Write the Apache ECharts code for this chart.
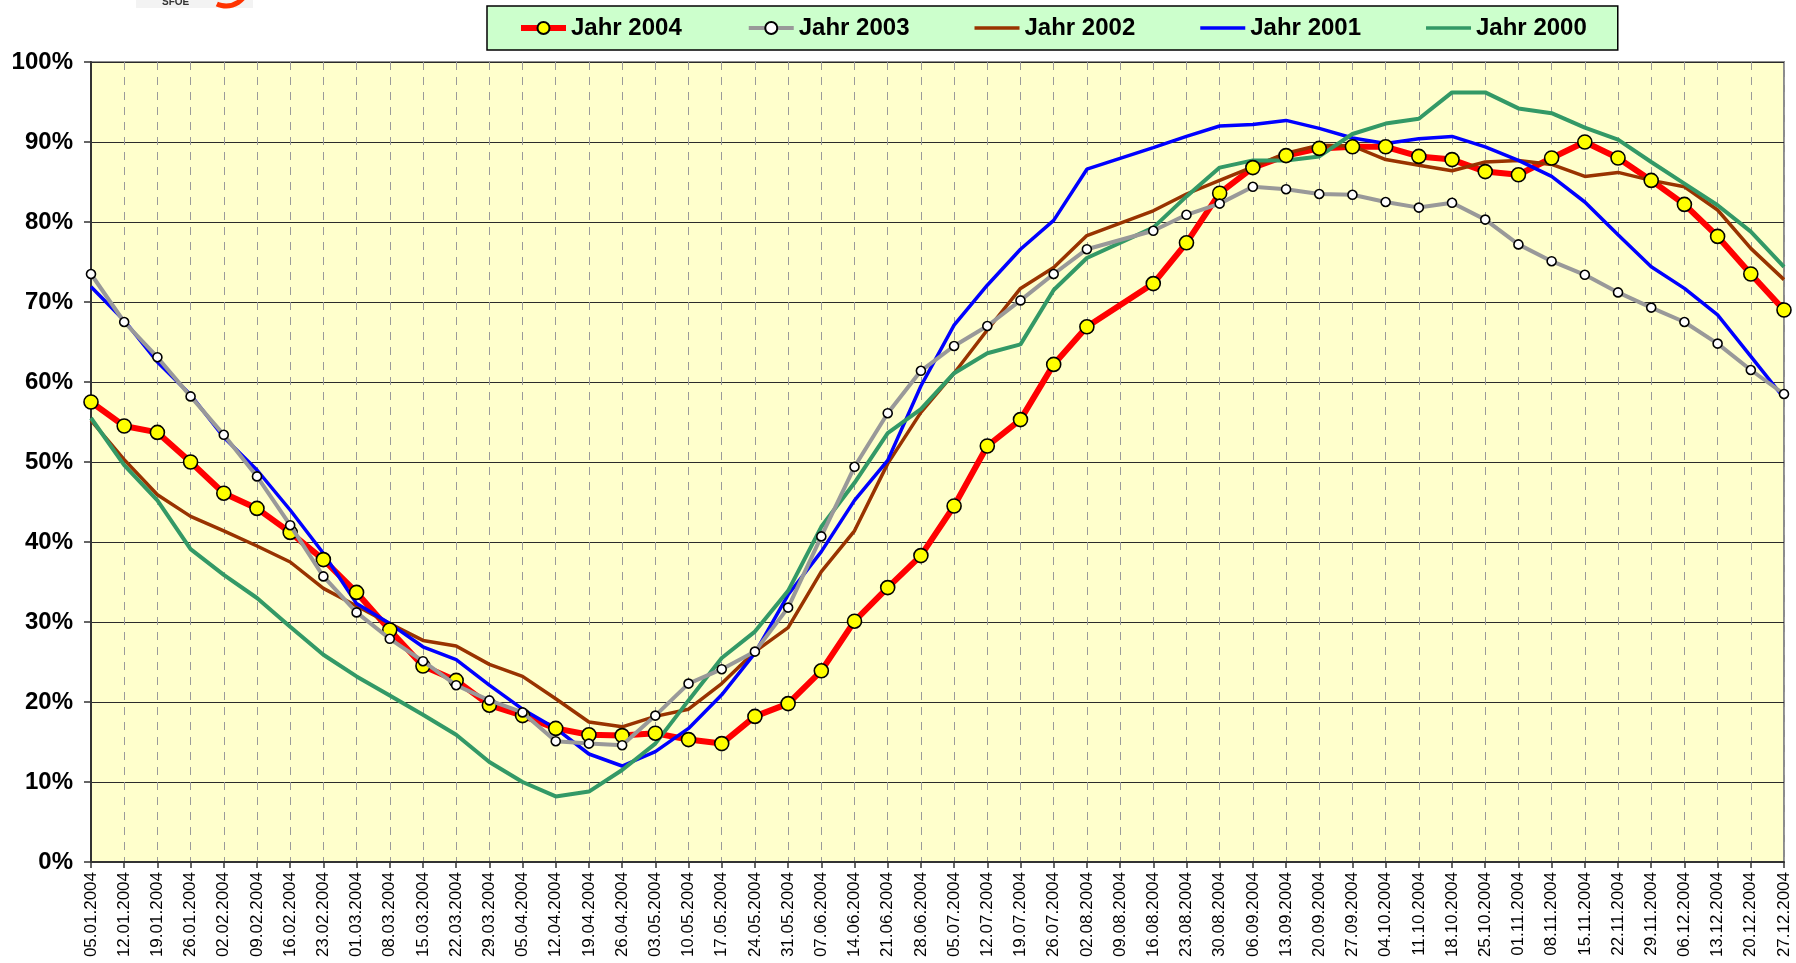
<!DOCTYPE html>
<html>
<head>
<meta charset="utf-8">
<script src="https://cdn.jsdelivr.net/npm/echarts@6/dist/echarts.min.js"></script>
<style>
html,body{margin:0;padding:0;background:#fff;}
#chart{width:1796px;height:963px;}
</style>
</head>
<body>
<div id="chart"></div>
<script>
const dates = ['05.01.2004','12.01.2004','19.01.2004','26.01.2004','02.02.2004','09.02.2004','16.02.2004','23.02.2004',
'01.03.2004','08.03.2004','15.03.2004','22.03.2004','29.03.2004','05.04.2004','12.04.2004','19.04.2004','26.04.2004',
'03.05.2004','10.05.2004','17.05.2004','24.05.2004','31.05.2004','07.06.2004','14.06.2004','21.06.2004','28.06.2004',
'05.07.2004','12.07.2004','19.07.2004','26.07.2004','02.08.2004','09.08.2004','16.08.2004','23.08.2004','30.08.2004',
'06.09.2004','13.09.2004','20.09.2004','27.09.2004','04.10.2004','11.10.2004','18.10.2004','25.10.2004','01.11.2004',
'08.11.2004','15.11.2004','22.11.2004','29.11.2004','06.12.2004','13.12.2004','20.12.2004','27.12.2004'];

const jahr2004 = [57.5,54.5,53.7,50.0,46.1,44.2,41.2,37.8,33.7,29.0,24.5,22.7,19.6,18.3,16.7,15.9,15.8,16.1,15.3,14.8,
18.2,19.8,23.9,30.1,34.3,38.3,44.5,52.0,55.3,62.2,66.9,null,72.3,77.4,83.6,86.8,88.3,89.2,89.4,89.4,
88.2,87.8,86.3,85.9,88.0,90.0,88.0,85.2,82.2,78.2,73.5,69.0];

const jahr2003 = [73.5,67.5,63.1,58.2,53.4,48.2,42.1,35.7,31.2,27.9,25.1,22.1,20.2,18.7,15.1,14.8,14.6,18.3,22.3,24.1,
26.3,31.8,40.7,49.4,56.1,61.4,64.5,67.0,70.2,73.5,76.6,null,78.9,80.9,82.3,84.4,84.1,83.5,83.4,82.5,
81.8,82.4,80.3,77.2,75.1,73.4,71.2,69.3,67.5,64.8,61.5,58.5];

const jahr2002 = [55.2,50.3,45.9,43.2,41.4,39.5,37.5,34.2,32.0,29.8,27.7,27.0,24.7,23.2,20.4,17.5,16.9,18.2,19.1,22.3,
26.3,29.3,36.3,41.4,49.8,56.2,61.1,66.5,71.7,74.3,78.3,null,81.4,83.5,85.2,86.9,88.6,89.6,89.5,87.8,
87.1,86.4,87.5,87.7,87.2,85.7,86.2,85.2,84.4,81.5,76.7,72.8];

const jahr2001 = [71.9,67.7,62.5,58.4,53.1,49.0,44.0,38.6,32.3,29.8,26.9,25.3,22.1,19.1,16.7,13.5,12.0,13.8,16.7,20.9,
26.1,33.4,38.8,45.2,50.2,59.5,67.1,72.1,76.6,80.2,86.6,null,89.3,90.7,92.0,92.2,92.7,91.7,90.5,89.8,
90.4,90.7,89.4,87.7,85.7,82.5,78.4,74.4,71.7,68.4,63.2,58.0];

const jahr2000 = [55.5,49.6,45.2,39.1,35.9,33.0,29.4,25.9,23.2,20.8,18.4,15.9,12.5,10.0,8.2,8.8,11.5,14.8,20.2,25.5,
28.8,33.9,41.9,47.4,53.6,56.6,61.1,63.6,64.7,71.5,75.5,null,79.3,83.2,86.8,87.7,87.7,88.2,91.0,92.3,
92.9,96.2,96.2,94.2,93.6,91.8,90.3,87.5,84.8,82.1,78.8,74.4];

const seriesNames = ['Jahr 2004','Jahr 2003','Jahr 2002','Jahr 2001','Jahr 2000'];
const yTicks = {min: 0, max: 100, interval: 10};

const FONT = "'Liberation Sans', Arial, sans-serif";
const LINE_ICON = 'path://M0,0h45v3.5h-45z';
const chart = echarts.init(document.getElementById('chart'), null, {renderer: 'canvas'});

chart.setOption({
  animation: false,
  backgroundColor: '#ffffff',
  textStyle: {fontFamily: FONT},
  graphic: [
    {type: 'rect', left: 136, top: 0, shape: {width: 117, height: 8}, style: {fill: '#f3f3f3'}, silent: true},
    {type: 'text', left: 162, top: -3, style: {text: 'SFOE', font: "bold 10px 'Liberation Sans', Arial", fill: '#333'}, silent: true},
    {type: 'arc', shape: {cx: 226, cy: -16, r: 22, startAngle: 0.2, endAngle: 2.0}, style: {stroke: '#ff3300', lineWidth: 5, fill: 'none'}, silent: true}
  ],
  legend: {
    data: [
      {name: seriesNames[0], lineStyle: {width: 6}},
      {name: seriesNames[1], lineStyle: {width: 4}},
      {name: seriesNames[2], icon: LINE_ICON},
      {name: seriesNames[3], icon: LINE_ICON},
      {name: seriesNames[4], icon: LINE_ICON}
    ],
    left: 487,
    top: 6,
    padding: [10, 31, 10, 31],
    itemGap: 65,
    itemWidth: 45,
    itemHeight: 15,
    symbolKeepAspect: true,
    backgroundColor: '#CCFFCC',
    borderColor: '#000000',
    borderWidth: 1.5,
    borderRadius: 0,
    textStyle: {fontFamily: FONT, fontSize: 24, fontWeight: 'bold', color: '#000'}
  },
  grid: {
    left: 91, right: 12, top: 62, bottom: 101,
    show: true,
    backgroundColor: '#FFFFCC',
    borderColor: '#8c8c8c',
    borderWidth: 2
  },
  xAxis: {
    type: 'category',
    data: dates,
    boundaryGap: false,
    axisLine: {show: true, lineStyle: {color: '#333', width: 2}},
    axisTick: {show: true, interval: 0, length: 6, lineStyle: {color: '#333', width: 1.5}},
    axisLabel: {interval: 0, rotate: 90, margin: 10, fontSize: 17, color: '#000', fontFamily: FONT},
    splitLine: {show: true, interval: 0, lineStyle: {color: '#9a9a9a', width: 1, type: [8, 7]}}
  },
  yAxis: {
    type: 'value',
    min: yTicks.min, max: yTicks.max, interval: yTicks.interval,
    axisLine: {show: true, lineStyle: {color: '#333', width: 2}},
    axisTick: {show: true, length: 7, lineStyle: {color: '#333', width: 1.5}},
    axisLabel: {formatter: '{value}%', fontSize: 24, fontWeight: 'bold', color: '#000', margin: 18, fontFamily: FONT},
    splitLine: {show: true, lineStyle: {color: '#2b2b2b', width: 1.2}}
  },
  series: [
    {
      name: seriesNames[0], type: 'line', data: jahr2004, connectNulls: true,
      symbol: 'circle', symbolSize: 14, showSymbol: true,
      lineStyle: {color: '#FF0000', width: 6},
      itemStyle: {color: '#FFFF00', borderColor: '#000', borderWidth: 1.6},
      z: 2
    },
    {
      name: seriesNames[1], type: 'line', data: jahr2003, connectNulls: true,
      symbol: 'circle', symbolSize: 9, showSymbol: true,
      lineStyle: {color: '#999999', width: 4},
      itemStyle: {color: '#FFFFFF', borderColor: '#000', borderWidth: 1.6},
      z: 3
    },
    {
      name: seriesNames[2], type: 'line', data: jahr2002, connectNulls: true,
      symbol: 'none',
      lineStyle: {color: '#993300', width: 3.5},
      itemStyle: {color: '#993300'},
      z: 2
    },
    {
      name: seriesNames[3], type: 'line', data: jahr2001, connectNulls: true,
      symbol: 'none',
      lineStyle: {color: '#0000FF', width: 3.5},
      itemStyle: {color: '#0000FF'},
      z: 2
    },
    {
      name: seriesNames[4], type: 'line', data: jahr2000, connectNulls: true,
      symbol: 'none',
      lineStyle: {color: '#339966', width: 4},
      itemStyle: {color: '#339966'},
      z: 2
    }
  ]
});
</script>
</body>
</html>
